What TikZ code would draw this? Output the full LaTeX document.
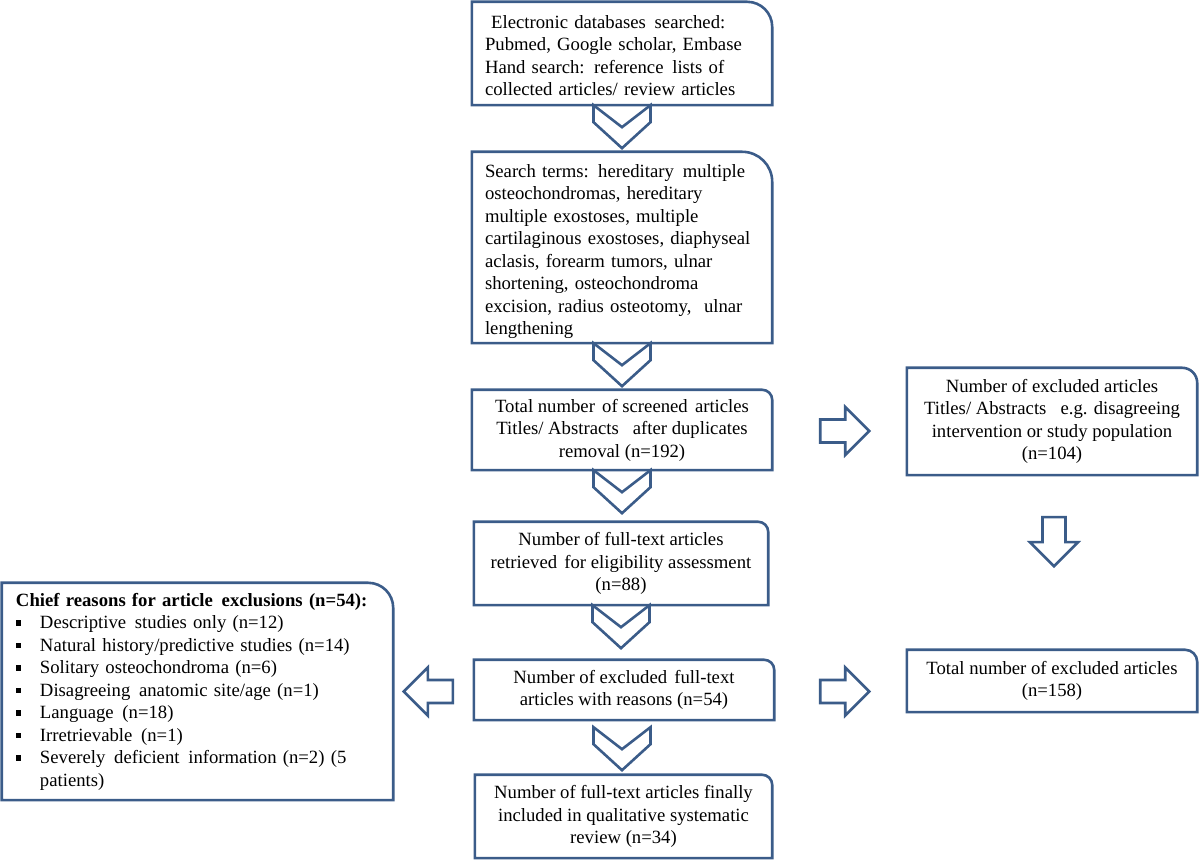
\documentclass[tikz,border=0pt]{standalone}
\usepackage{fontspec}
\setmainfont{Liberation Serif}
\definecolor{bcol}{RGB}{59,92,137}
\tikzset{
  bl/.style={draw=bcol,line width=2.6pt,line join=miter,fill=white},
  box/.style={inner sep=0pt,align=center,font=\fontsize{18.7}{22.5}\selectfont},
  lbox/.style={box,align=left,inner xsep=13pt},
  chev/.pic={\draw[bl] (-28.5,0) -- (-28.5,-17) -- (0,-43) -- (28.5,-17) -- (28.5,0) -- (0,-22) -- cycle;},
  barrow/.pic={\draw[bl] (0,11.5) -- (25,11.5) -- (25,24) -- (49,0) -- (25,-24) -- (25,-11.5) -- (0,-11.5) -- cycle;}
}
\newcommand\rbox[2]{\draw[bl] (#1.south west) -- (#1.north west) -- ([xshift=-#2pt]#1.north east) arc[start angle=90,end angle=0,radius=#2pt] -- (#1.south east) -- cycle;}
\newcommand\bul{\makebox[24pt][l]{\raisebox{2.6pt}{\rule{5.5pt}{5.5pt}}}}
\newcommand\xsp{\hspace{2.5pt}}
\begin{document}
\begin{tikzpicture}[x=1pt,y=1pt]
\useasboundingbox (0,0) rectangle (1200,862);
% box geometry
\path (622,808.5) node[minimum width=300pt,minimum height=103pt] (b1) {};
\path (622,614.5) node[minimum width=300pt,minimum height=191pt] (b2) {};
\path (622,432) node[minimum width=300pt,minimum height=80pt] (b3) {};
\path (621,298.5) node[minimum width=294pt,minimum height=83pt] (b4) {};
\path (624,172) node[minimum width=300pt,minimum height=60pt] (b5) {};
\path (623.5,45.5) node[minimum width=297pt,minimum height=83pt] (b6) {};
\path (1052,440.5) node[minimum width=290pt,minimum height=107pt] (r1) {};
\path (1052,181) node[minimum width=290pt,minimum height=62pt] (r2) {};
\path (197.5,170.5) node[minimum width=391pt,minimum height=217pt] (l1) {};
% borders
\rbox{b1}{25}\rbox{b2}{30}\rbox{b3}{10}\rbox{b4}{10}\rbox{b5}{10}\rbox{b6}{10}
\rbox{r1}{15}\rbox{r2}{12}\rbox{l1}{25}
% texts
\node[lbox,text width=274pt] at ([yshift=-2pt]b1.center) {\ Electronic databases\xsp{} searched:\\Pubmed, Google scholar, Embase\\Hand search: reference\xsp{} lists of\\collected articles/ review articles};
\node[lbox,text width=274pt] at ([yshift=-4pt]b2.center) {Search terms: hereditary\xsp{} multiple\\osteochondromas, hereditary\\multiple exostoses, multiple\\cartilaginous exostoses, diaphyseal\\aclasis, forearm tumors, ulnar\\shortening, osteochondroma\\excision, radius osteotomy,\ \ ulnar\\lengthening};
\node[box] at (b3) {Total number\xsp{} of screened\xsp{} articles\\Titles/ Abstracts\ \ \ after duplicates\\removal (n=192)};
\node[box] at (b4) {Number of full-text articles\\retrieved\xsp{} for eligibility assessment\\(n=88)};
\node[box] at (b5) {Number of excluded\xsp{} full-text\\articles with reasons (n=54)};
\node[box] at (b6) {Number of full-text articles finally\\included in qualitative systematic\\review (n=34)};
\node[box] at (r1) {Number of excluded articles\\Titles/ Abstracts\ \ \ e.g. disagreeing\\intervention or study population\\(n=104)};
\node[box] at (r2) {Total number of excluded articles\\(n=158)};
\node[box,align=left,text width=375pt,anchor=west] at ([xshift=14pt]l1.west) {\textbf{Chief reasons for article\xsp{} exclusions (n=54):}\\
\bul Descriptive\xsp{} studies only (n=12)\\
\bul Natural history/predictive studies (n=14)\\
\bul Solitary osteochondroma (n=6)\\
\bul Disagreeing\xsp{} anatomic site/age (n=1)\\
\bul Language\xsp{} (n=18)\\
\bul Irretrievable\xsp{} (n=1)\\
\bul Severely\xsp{} deficient\xsp{} information (n=2) (5\\
\hspace*{24pt}patients)};
% chevrons
\pic at (b1.south) {chev};
\pic at (b2.south) {chev};
\pic at (b3.south) {chev};
\pic at (b4.south) {chev};
\pic at ([xshift=-2pt,yshift=-7pt]b5.south) {chev};
% block arrows
\pic at ([xshift=48pt,yshift=-1pt]b3.east) {barrow};
\pic at ([xshift=46pt,yshift=-1.5pt]b5.east) {barrow};
\pic[rotate=180] at ([xshift=-21pt,yshift=-1.5pt]b5.west) {barrow};
\pic[rotate=-90] at ([xshift=2pt,yshift=-42pt]r1.south) {barrow};
\end{tikzpicture}
\end{document}
